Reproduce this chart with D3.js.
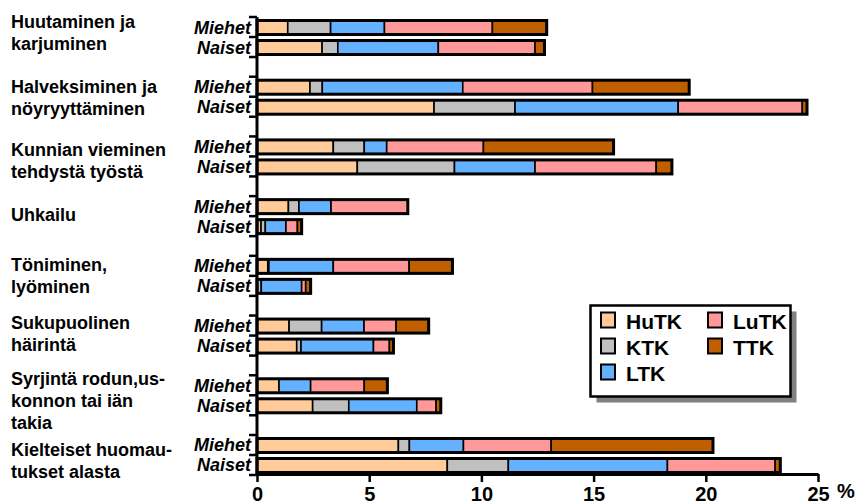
<!DOCTYPE html>
<html>
<head>
<meta charset="utf-8">
<script src="https://cdn.jsdelivr.net/npm/d3@7"></script>
<style>
  body { margin: 0; background: #fff; }
  svg { display: block; font-family: "Liberation Sans", Arial, sans-serif; }
</style>
</head>
<body>
<svg id="chart" width="858" height="501"></svg>
<script>
// categories (line breaks as in the original)
const categories = [
    "Huutaminen ja\nkarjuminen",
    "Halveksiminen ja\nnöyryyttäminen",
    "Kunnian vieminen\ntehdystä työstä",
    "Uhkailu",
    "Töniminen,\nlyöminen",
    "Sukupuolinen\nhäirintä",
    "Syrjintä rodun,us-\nkonnon tai iän\ntakia",
    "Kielteiset huomau-\ntukset alasta"
];
const genders = ["Miehet", "Naiset"];
const series = ["HuTK", "KTK", "LTK", "LuTK", "TTK"];
const xTicks = [0, 5, 10, 15, 20, 25];

// % values, one row per category, columns follow `series`
const miehet = [
    [1.37, 1.91, 2.40, 4.81, 2.42],
    [2.36, 0.55, 6.26, 5.78, 4.31],
    [3.40, 1.38, 1.00, 4.31, 5.80],
    [1.40, 0.47, 1.43, 3.42, 0.00],
    [0.48, 0.05, 2.87, 3.38, 1.93],
    [1.43, 1.45, 1.89, 1.43, 1.45],
    [0.98, 0.00, 1.41, 2.39, 1.03],
    [6.30, 0.49, 2.41, 3.91, 7.21]
];
const naiset = [
    [2.90, 0.70, 4.48, 4.31, 0.42],
    [7.89, 3.61, 7.27, 5.53, 0.21],
    [4.47, 4.33, 3.59, 5.40, 0.70],
    [0.18, 0.19, 0.92, 0.51, 0.19],
    [0.00, 0.19, 1.80, 0.18, 0.22],
    [1.77, 0.19, 3.23, 0.71, 0.18],
    [2.48, 1.61, 3.03, 0.86, 0.21],
    [8.48, 2.72, 7.09, 4.80, 0.23]
];

const colors = ["#FFCC99", "#C0C0C0", "#63B1FF", "#FF9999", "#BF5F00"];
// small nudges so the category labels sit where the original put them
const labelNudge = [-4.5, 1, 4.5, -1, 0, -1.5, 6, 6];

const svg = d3.select("#chart");

const x = d3.scaleLinear().domain([0, 25]).range([257, 818]);
const y = d3.scaleBand().domain(categories).range([17, 475]).paddingInner(0.33);
const yRow = d3.scaleBand().domain(genders).range([0, y.bandwidth()]);
const color = d3.scaleOrdinal().domain(series).range(colors);

// flat table: one row per category+gender
const rows = [];
categories.forEach((c, i) => {
    [miehet[i], naiset[i]].forEach((vals, g) => {
        const r = { cat: c, gender: genders[g] };
        series.forEach((s, k) => r[s] = vals[k]);
        rows.push(r);
    });
});
const stacked = d3.stack().keys(series)(rows);

const rowY = d => y(d.cat) + yRow(d.gender);
const barPad = 3.5;
const barH = yRow.bandwidth() - 6;

// segments
const layer = svg.append("g").selectAll("g")
    .data(stacked)
    .join("g")
    .attr("fill", d => color(d.key));

layer.selectAll("rect")
    .data(d => d.filter(p => p[1] - p[0] > 0))
    .join("rect")
    .attr("x", p => x(p[0]))
    .attr("y", p => rowY(p.data) + barPad)
    .attr("width", p => x(p[1]) - x(p[0]))
    .attr("height", barH)
    .attr("stroke", "#000")
    .attr("stroke-width", 1.6);

// thick outline round every bar
svg.append("g").selectAll("rect")
    .data(rows)
    .join("rect")
    .attr("x", x(0))
    .attr("y", d => rowY(d) + barPad)
    .attr("width", d => x(d3.sum(series, s => d[s])) - x(0))
    .attr("height", barH)
    .attr("fill", "none")
    .attr("stroke", "#000")
    .attr("stroke-width", 3);

// y axis: line plus ticks at every row edge
const yAxis = svg.append("g");
yAxis.append("line")
    .attr("x1", x(0)).attr("x2", x(0))
    .attr("y1", y.range()[0]).attr("y2", y.range()[1])
    .attr("stroke", "#000").attr("stroke-width", 3);

const edges = [];
categories.forEach(c => {
    genders.forEach(g => edges.push(y(c) + yRow(g)));
    edges.push(y(c) + y.bandwidth());
});
yAxis.selectAll(".ytick")
    .data(edges)
    .join("line")
    .attr("class", "ytick")
    .attr("x1", x(0) - 8).attr("x2", x(0))
    .attr("y1", d => d).attr("y2", d => d)
    .attr("stroke", "#000").attr("stroke-width", 2.5);

// Miehet / Naiset labels
svg.append("g").selectAll("text")
    .data(rows)
    .join("text")
    .attr("x", 251)
    .attr("y", d => rowY(d) + yRow.bandwidth() / 2 + 6.5)
    .attr("text-anchor", "end")
    .attr("font-size", 18)
    .attr("font-weight", "bold")
    .attr("font-style", "italic")
    .text(d => d.gender);

// category labels
const lineH = 22;
svg.append("g").selectAll("text")
    .data(categories)
    .join("text")
    .attr("font-size", 18)
    .attr("font-weight", "bold")
    .each(function (c, i) {
        const lines = c.split("\n");
        const first = y(c) + y.bandwidth() / 2 - (lines.length - 1) * lineH / 2 + 6 + labelNudge[i];
        d3.select(this).selectAll("tspan")
            .data(lines)
            .join("tspan")
            .attr("x", 11)
            .attr("y", (l, j) => first + j * lineH)
            .text(l => l);
    });

// x axis
const xAxisY = 474;
const xAxis = svg.append("g")
    .attr("transform", `translate(0,${xAxisY})`)
    .call(d3.axisBottom(x).tickValues(xTicks).tickSize(8).tickSizeOuter(0).tickPadding(5));
xAxis.select(".domain").attr("stroke-width", 3).attr("stroke", "#000");
xAxis.selectAll(".tick line").attr("stroke-width", 2.5).attr("stroke", "#000");
xAxis.selectAll(".tick text")
    .attr("font-family", "'Liberation Sans', Arial, sans-serif")
    .attr("font-size", 20)
    .attr("font-weight", "bold")
    .attr("fill", "#000");

svg.append("text")
    .attr("x", 837)
    .attr("y", 498)
    .attr("font-size", 20)
    .attr("font-weight", "bold")
    .text("%");

// legend
const lg = svg.append("g");
lg.append("rect")
    .attr("x", 596.5).attr("y", 311.5)
    .attr("width", 200).attr("height", 91)
    .attr("fill", "#808080");
lg.append("rect")
    .attr("x", 590.5).attr("y", 305.5)
    .attr("width", 200).attr("height", 91)
    .attr("fill", "#fff").attr("stroke", "#000").attr("stroke-width", 2.5);

const item = lg.selectAll(".item")
    .data(series)
    .join("g")
    .attr("class", "item")
    .attr("transform", (s, i) => `translate(${i < 3 ? 601 : 708},${312.5 + (i % 3) * 26})`);
item.append("rect")
    .attr("width", 14).attr("height", 15)
    .attr("fill", s => color(s))
    .attr("stroke", "#000").attr("stroke-width", 2);
item.append("text")
    .attr("x", 25).attr("y", 16)
    .attr("font-size", 21)
    .attr("font-weight", "bold")
    .text(s => s);
</script>
</body>
</html>
